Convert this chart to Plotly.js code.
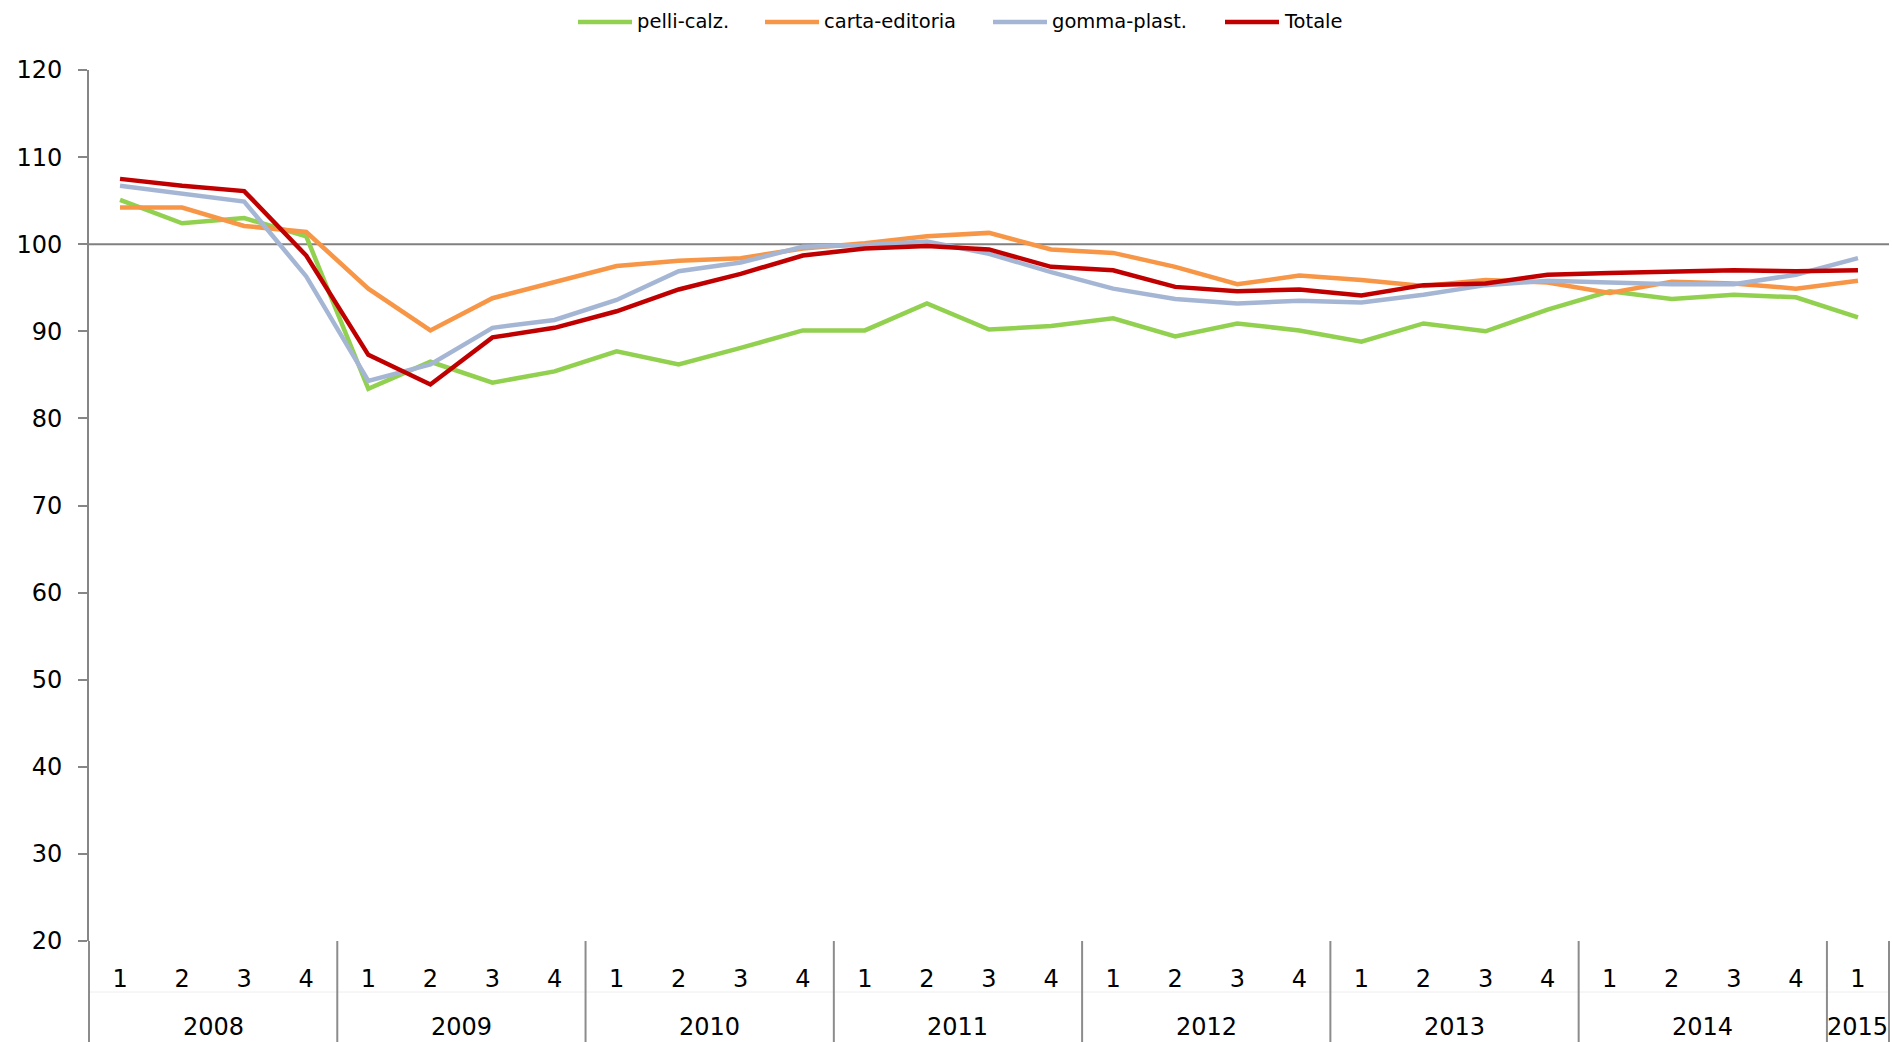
<!DOCTYPE html>
<html>
<head>
<meta charset="utf-8">
<script src="https://cdn.plot.ly/plotly-3.0.1.min.js"></script>
<style>html,body{margin:0;padding:0;background:#fff;}#chart{width:1892px;height:1042px;}</style>
</head>
<body>
<div id="chart"></div>
<script>
// ---- data ----
var years = ["2008","2008","2008","2008","2009","2009","2009","2009","2010","2010","2010","2010",
             "2011","2011","2011","2011","2012","2012","2012","2012","2013","2013","2013","2013",
             "2014","2014","2014","2014","2015"];
var quarters = ["1","2","3","4","1","2","3","4","1","2","3","4","1","2","3","4",
                "1","2","3","4","1","2","3","4","1","2","3","4","1"];
var seriesNames = ["pelli-calz.", "carta-editoria", "gomma-plast.", "Totale"];
var pelliCalz = [105.1, 102.4, 103.0, 100.9, 83.4, 86.5, 84.1, 85.4, 87.7, 86.2, 88.1, 90.1, 90.1, 93.2, 90.2,
                 90.6, 91.5, 89.4, 90.9, 90.1, 88.8, 90.9, 90.0, 92.5, 94.6, 93.7, 94.2, 93.9, 91.6];
var cartaEditoria = [104.2, 104.2, 102.1, 101.4, 94.9, 90.1, 93.8, 95.6, 97.5, 98.1, 98.4, 99.5, 100.1, 100.9, 101.3,
                     99.4, 99.0, 97.4, 95.4, 96.4, 95.9, 95.2, 95.9, 95.6, 94.4, 95.7, 95.5, 94.9, 95.8];
var gommaPlast = [106.7, 105.8, 104.9, 96.3, 84.3, 86.2, 90.4, 91.3, 93.6, 96.9, 97.9, 99.7, 99.9, 100.3, 98.9,
                  96.8, 94.9, 93.7, 93.2, 93.5, 93.3, 94.2, 95.3, 95.8, 95.6, 95.4, 95.4, 96.5, 98.4];
var totale = [107.5, 106.7, 106.1, 98.7, 87.3, 83.9, 89.3, 90.4, 92.3, 94.8, 96.6, 98.7, 99.5, 99.8, 99.4,
              97.4, 97.0, 95.1, 94.6, 94.8, 94.1, 95.3, 95.5, 96.5, 96.7, 96.8, 97.0, 96.9, 97.0];
var baseline = 100;
var yTicks = [20, 30, 40, 50, 60, 70, 80, 90, 100, 110, 120];

// ---- styling / layout constants ----
var colors = ["#92D050", "#F79646", "#A5B6D5", "#C00000"];
var seriesData = [pelliCalz, cartaEditoria, gommaPlast, totale];
var FONT = "DejaVu Sans, Verdana, sans-serif";
var W = 1892, H = 1042, ML = 89, MR = 3, MT = 70, MB = 101;
var PW = W - ML - MR, PH = H - MT - MB;
function px2paperX(px) { return (px - ML) / PW; }
function px2paperY(py) { return (H - MB - py) / PH; }

// unique category keys (one per quarter) shown as quarter numbers
var keys = years.map(function (y, i) { return y + "-Q" + quarters[i]; });

var traces = seriesData.map(function (vals, i) {
  return {
    type: "scatter",
    mode: "lines",
    name: seriesNames[i],
    x: keys,
    y: vals,
    line: {color: colors[i], width: 4.5},
    showlegend: false
  };
});

var n = years.length;
var shapes = [];
var annotations = [];

// group boundaries and year labels derived from the year array
var groupStart = 0;
for (var k = 0; k <= n; k++) {
  if (k === 0 || k === n || years[k] !== years[k - 1]) {
    shapes.push({type: "line", xref: "paper", yref: "paper", x0: k / n, x1: k / n,
                 y0: 0, y1: px2paperY(H + 2), line: {color: "#8C8C8C", width: 2}});
    if (k > 0) {
      annotations.push({xref: "x", yref: "paper", x: (groupStart + k - 1) / 2, y: px2paperY(1027),
                        text: years[k - 1], showarrow: false, xanchor: "center", yanchor: "middle",
                        font: {family: FONT, size: 24, color: "#000000"}});
    }
    groupStart = k;
  }
}
// faint separator between label rows
shapes.push({type: "line", xref: "paper", yref: "paper", x0: 0, x1: 1, y0: px2paperY(992), y1: px2paperY(992),
             line: {color: "#EEEEEE", width: 1}, layer: "below"});
// reference line at 100
shapes.push({type: "line", xref: "paper", yref: "y", x0: 0, x1: 1, y0: baseline, y1: baseline,
             line: {color: "#808080", width: 2}, layer: "below"});

// legend drawn as line samples + labels
var legendStartPx = [578, 765, 993, 1225];
var legendLineLen = 54, legendY = 22;
seriesNames.forEach(function (name, i) {
  var x0 = legendStartPx[i];
  shapes.push({type: "line", xref: "paper", yref: "paper",
               x0: px2paperX(x0), x1: px2paperX(x0 + legendLineLen),
               y0: px2paperY(legendY), y1: px2paperY(legendY),
               line: {color: colors[i], width: 4.5}});
  annotations.push({xref: "paper", yref: "paper", x: px2paperX(x0 + legendLineLen + 3), y: px2paperY(legendY),
                    text: name, showarrow: false, xanchor: "left", yanchor: "middle",
                    font: {family: FONT, size: 19.5, color: "#000000"}});
});

var layout = {
  width: W,
  height: H,
  margin: {l: ML, r: MR, t: MT, b: MB, pad: 0},
  paper_bgcolor: "#ffffff",
  plot_bgcolor: "#ffffff",
  font: {family: FONT, size: 24, color: "#000000"},
  showlegend: false,
  xaxis: {
    type: "category",
    range: [-0.5, n - 0.5],
    tickvals: keys,
    ticktext: quarters,
    showgrid: false,
    zeroline: false,
    showline: false,
    ticks: "",
    ticklabelstandoff: 21,
    tickfont: {family: FONT, size: 24, color: "#000000"},
    fixedrange: true
  },
  yaxis: {
    range: [20, 120],
    tickvals: yTicks,
    ticktext: yTicks.map(String),
    showgrid: false,
    zeroline: false,
    showline: true,
    linecolor: "#868686",
    linewidth: 2,
    ticks: "outside",
    ticklen: 9,
    tickwidth: 2,
    tickcolor: "#868686",
    tickfont: {family: FONT, size: 24, color: "#000000"},
    ticklabelstandoff: 11,
    fixedrange: true
  },
  shapes: shapes,
  annotations: annotations
};

Plotly.newPlot("chart", traces, layout, {displayModeBar: false, staticPlot: true});
</script>
</body>
</html>
